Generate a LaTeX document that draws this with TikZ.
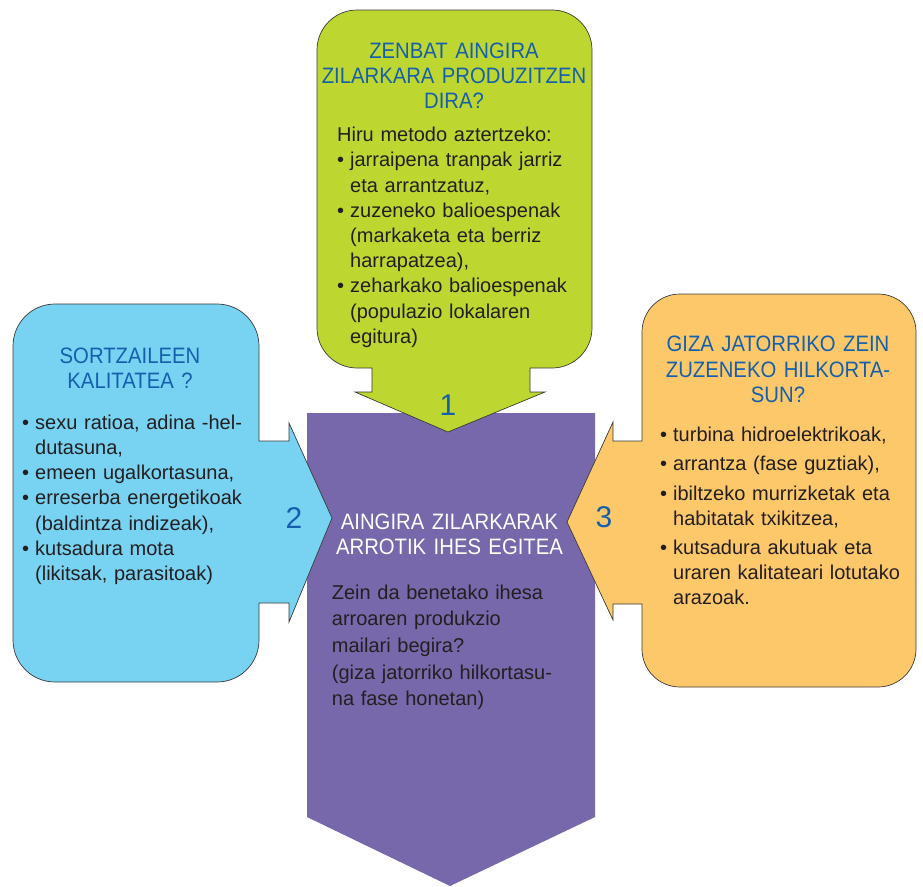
\documentclass[tikz,border=0pt]{standalone}
\usepackage{fontspec}
\setmainfont{Liberation Sans}
\newfontfamily\titlefont{Liberation Sans}[FakeStretch=0.91]
\definecolor{cgreen}{HTML}{BED630}
\definecolor{cblue}{HTML}{78D2F2}
\definecolor{corange}{HTML}{FDC86A}
\definecolor{cpurple}{HTML}{7668AA}
\definecolor{ctitle}{HTML}{1560AC}
\definecolor{ctext}{HTML}{231F20}
\definecolor{cedge}{HTML}{3A3A3A}
\newcommand{\bul}{\makebox[13pt][l]{•}}
\newcommand{\ind}{\hspace*{13pt}}
\tikzset{
  shapebox/.style={draw=cedge, line width=0.7pt, line join=miter},
  titletext/.style={font=\titlefont\fontsize{22.3}{25.3}\selectfont, text=ctitle, align=center, inner sep=0pt, anchor=base, text width=300pt},
  bodytext/.style={font=\fontsize{20}{25.2}\selectfont, text=ctext, align=left, inner sep=0pt, anchor=base west, text width=300pt},
  numtext/.style={font=\fontsize{30}{30}\selectfont, text=ctitle, inner sep=0pt, anchor=base}
}
\begin{document}
\begin{tikzpicture}[x=1pt,y=-1pt]
\useasboundingbox (0,0) rectangle (923,886);
% purple central arrow
\fill[cpurple] (307,413) -- (595,413) -- (595,817) -- (450,886) -- (307,817) -- cycle;
% green callout
\path[shapebox, fill=cgreen] (372,368) -- (357,368) .. controls (334.9,368) and (317,350.1) .. (317,328) -- (317,50) .. controls (317,27.9) and (334.9,10) .. (357,10) -- (552,10) .. controls (574.1,10) and (592,27.9) .. (592,50) -- (592,328) .. controls (592,350.1) and (574.1,368) .. (552,368) -- (530,368) -- (530,392) -- (545,392) -- (448,432) -- (355,392) -- (372,392) -- cycle;
% blue callout
\path[shapebox, fill=cblue] (259,441) -- (259,346) .. controls (259,322.8) and (240.2,304) .. (217,304) -- (55,304) .. controls (31.8,304) and (13,322.8) .. (13,346) -- (13,640) .. controls (13,663.2) and (31.8,682) .. (55,682) -- (217,682) .. controls (240.2,682) and (259,663.2) .. (259,640) -- (259,603) -- (289,603) -- (289,622) -- (332,518) -- (289,423) -- (289,441) -- cycle;
% orange callout
\path[shapebox, fill=corange] (642,441) -- (642,332) .. controls (642,311) and (659,294) .. (680,294) -- (878,294) .. controls (899,294) and (916,311) .. (916,332) -- (916,649) .. controls (916,670) and (899,687) .. (878,687) -- (680,687) .. controls (659,687) and (642,670) .. (642,649) -- (642,604) -- (613,604) -- (613,620) -- (567,522) -- (613,422) -- (613,441) -- cycle;

% green texts
\node[titletext] (gtitle) at (454,58) {ZENBAT AINGIRA\\ZILARKARA PRODUZITZEN\\DIRA?};
\node[bodytext] (gbody) at (337,141.7) {Hiru metodo aztertzeko:\\
\bul jarraipena tranpak jarriz\\
\ind eta arrantzatuz,\\
\bul zuzeneko balioespenak\\
\ind (markaketa eta berriz\\
\ind harrapatzea),\\
\bul zeharkako balioespenak\\
\ind (populazio lokalaren\\
\ind egitura)};
\node[numtext] (n1) at (448,415) {1};

% blue texts
\node[titletext] (btitle) at (130,363.3) {SORTZAILEEN\\KALITATEA ?};
\node[bodytext] (bbody) at (22,429.3) {\bul sexu ratioa, adina -hel-\\
\ind dutasuna,\\
\bul emeen ugalkortasuna,\\
\bul erreserba energetikoak\\
\ind (baldintza indizeak),\\
\bul kutsadura mota\\
\ind (likitsak, parasitoak)};
\node[numtext] (n2) at (294,528.3) {2};

% orange texts
\node[titletext] (otitle) at (778,351.7) {GIZA JATORRIKO ZEIN\\ZUZENEKO HILKORTA-\\SUN?};
\node[bodytext] (obody) at (660,441.7) {\bul turbina hidroelektrikoak,\\[4pt]
\bul arrantza (fase guztiak),\\[4pt]
\bul ibiltzeko murrizketak eta\\
\ind habitatak txikitzea,\\[4pt]
\bul kutsadura akutuak eta\\
\ind uraren kalitateari lotutako\\
\ind arazoak.};
\node[numtext] (n3) at (604,527.3) {3};

% purple texts
\node[titletext, text=white] (ptitle) at (449.5,529.3) {AINGIRA ZILARKARAK\\ARROTIK IHES EGITEA};
\node[bodytext, font=\fontsize{20}{26.7}\selectfont] (pbody) at (331.7,599) {Zein da benetako ihesa\\
arroaren produkzio\\
mailari begira?\\
(giza jatorriko hilkortasu-\\
na fase honetan)};
\end{tikzpicture}
\end{document}
